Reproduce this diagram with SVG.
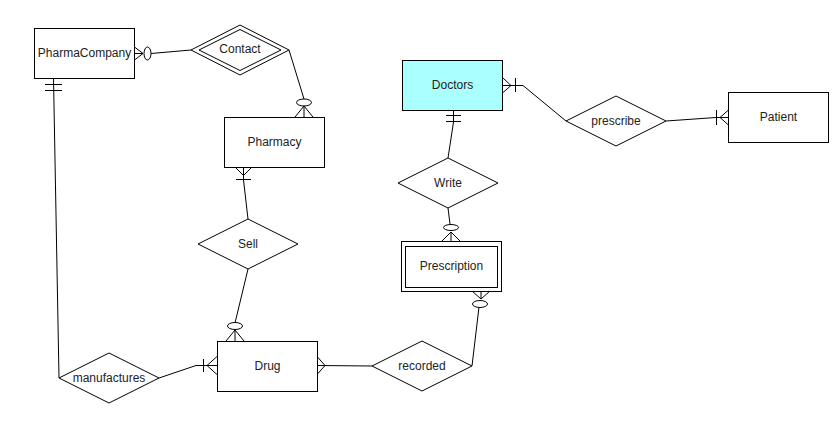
<svg xmlns="http://www.w3.org/2000/svg" width="839" height="438" viewBox="0 0 839 438">
<style>
.s{fill:#fff;stroke:#000;stroke-width:1}
.c{fill:none;stroke:#000;stroke-width:1}
.o{fill:#fff;stroke:#000;stroke-width:1}
text{font-family:"Liberation Sans",Arial,sans-serif;font-size:12px;fill:#222;text-anchor:middle}
</style>
<rect width="839" height="438" fill="#fff"/>
<g id="connectors">
  <!-- PharmaCompany - Contact -->
  <g id="e1">
    <path class="c" d="M134.5,47 L143,53.5 L134.5,60 M134.5,53.5 L143,53.5"/>
    <path class="c" d="M151,53.5 L191,50"/>
    <ellipse class="o" cx="147.5" cy="53.5" rx="3.5" ry="6.5"/>
  </g>
  <!-- Contact - Pharmacy -->
  <g id="e2">
    <path class="c" d="M289,50 L304,99"/>
    <path class="c" d="M295,117 L304,106 L313,117 M304,106 L304,117"/>
    <ellipse class="o" cx="304" cy="102.5" rx="7.5" ry="3.5"/>
  </g>
  <!-- Pharmacy - Sell -->
  <g id="e3">
    <path class="c" d="M243.5,167 L243.5,180 L248,219"/>
    <path class="c" d="M235,167 L243.5,175.5 L252,167 M236,179.5 L251,179.5"/>
  </g>
  <!-- Sell - Drug -->
  <g id="e4">
    <path class="c" d="M248,269 L235,323"/>
    <path class="c" d="M226,341 L235,330 L244,341 M235,330 L235,341"/>
    <ellipse class="o" cx="235" cy="326" rx="7.5" ry="3.5"/>
  </g>
  <!-- PharmaCompany - manufactures -->
  <g id="e5">
    <path class="c" d="M53.5,78 L59,378"/>
    <path class="c" d="M45,84.5 L62,84.5 M45,90.5 L62,90.5"/>
  </g>
  <!-- manufactures - Drug -->
  <g id="e6">
    <path class="c" d="M159,378 L196,365.5 L217,365.5"/>
    <path class="c" d="M203.5,359 L203.5,372 M217,356.5 L207,365.5 L217,374.5"/>
  </g>
  <!-- Drug - recorded -->
  <g id="e7">
    <path class="c" d="M317,365.5 L372,366"/>
    <path class="c" d="M317.5,357 L325,365.5 L317.5,374"/>
  </g>
  <!-- recorded - Prescription -->
  <g id="e8">
    <path class="c" d="M472,366 L479,307"/>
    <path class="c" d="M472,291 L481,299 L490,291 M481,291 L481,299"/>
    <ellipse class="o" cx="480" cy="304" rx="7.5" ry="3.5"/>
  </g>
  <!-- Doctors - Write -->
  <g id="e9">
    <path class="c" d="M453.5,110 L453.5,122 L448,158"/>
    <path class="c" d="M446,115.5 L461,115.5 M446,121.5 L461,121.5"/>
  </g>
  <!-- Write - Prescription -->
  <g id="e10">
    <path class="c" d="M448,208 L450,224"/>
    <path class="c" d="M442,241 L451,232 L460,241 M451,232 L451,241"/>
    <ellipse class="o" cx="451" cy="227.5" rx="7.5" ry="3"/>
  </g>
  <!-- Doctors - prescribe -->
  <g id="e11">
    <path class="c" d="M502.5,85.5 L523,85.5 L566,121"/>
    <path class="c" d="M502.5,77.5 L511,85.5 L502.5,93 M515.5,78 L515.5,92"/>
  </g>
  <!-- prescribe - Patient -->
  <g id="e12">
    <path class="c" d="M666,121 L716,117.5 L728.5,117.5"/>
    <path class="c" d="M716.5,110 L716.5,125 M728.5,110 L720,117.5 L728.5,125"/>
  </g>
</g>
<g id="PharmaCompany">
  <rect class="s" x="34.5" y="28.5" width="100" height="50"/>
  <text x="84.5" y="57">PharmaCompany</text>
</g>
<g id="Contact">
  <polygon class="s" points="191,50 240,25 289,50 240,75"/>
  <polygon class="s" points="199,50 240,29.5 281,50 240,70.5"/>
  <text x="240" y="53">Contact</text>
</g>
<g id="Pharmacy">
  <rect class="s" x="224.5" y="117.5" width="100" height="50"/>
  <text x="274.5" y="146">Pharmacy</text>
</g>
<g id="Sell">
  <polygon class="s" points="198,244 248,219 298,244 248,269"/>
  <text x="248" y="248">Sell</text>
</g>
<g id="Drug">
  <rect class="s" x="217.5" y="341.5" width="100" height="50"/>
  <text x="267.5" y="369.5">Drug</text>
</g>
<g id="manufactures">
  <polygon class="s" points="59,378 109,353 159,378 109,403"/>
  <text x="109" y="382">manufactures</text>
</g>
<g id="recorded">
  <polygon class="s" points="372,366 422,341 472,366 422,391"/>
  <text x="422" y="370">recorded</text>
</g>
<g id="Prescription">
  <rect class="s" x="401.5" y="241.5" width="100" height="50"/>
  <rect class="s" x="405.5" y="246.5" width="92" height="41"/>
  <text x="451.5" y="270">Prescription</text>
</g>
<g id="Write">
  <polygon class="s" points="398,183 448,158 498,183 448,208"/>
  <text x="448" y="187">Write</text>
</g>
<g id="Doctors">
  <rect x="402.5" y="60.5" width="100" height="50" fill="#aaffff" stroke="#000" stroke-width="1"/>
  <text x="452.5" y="89">Doctors</text>
</g>
<g id="prescribe">
  <polygon class="s" points="566,121 616,96 666,121 616,146"/>
  <text x="616" y="125">prescribe</text>
</g>
<g id="Patient">
  <rect class="s" x="728.5" y="92.5" width="100" height="50"/>
  <text x="778.5" y="121">Patient</text>
</g>
</svg>
